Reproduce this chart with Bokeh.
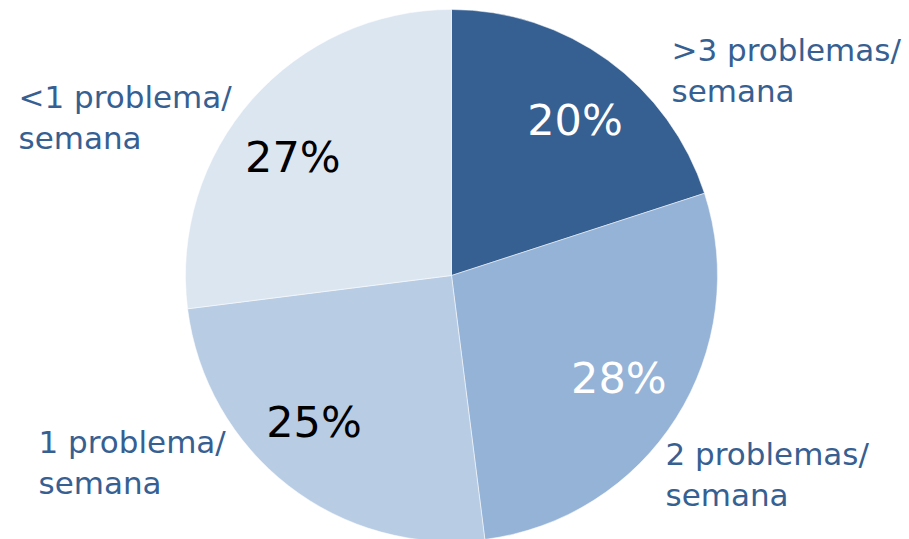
import math
from bokeh.plotting import figure
from bokeh.models import ColumnDataSource, Range1d
from bokeh.core.properties import value
from bokeh.embed import file_html
from bokeh.resources import INLINE

# ---- data ----
categories = [">3 problemas/\nsemana", "2 problemas/\nsemana", "1 problema/\nsemana", "<1 problema/\nsemana"]
shares = [20, 28, 25, 27]
pct_labels = ["20%", "28%", "25%", "27%"]

# ---- styles / layout ----
colors = ["#366092", "#95b3d7", "#b8cce4", "#dce6f1"]
pct_colors = ["#ffffff", "#ffffff", "#000000", "#000000"]
label_offsets = [(220, 205), (214, -199), (-413, -187), (-433, 158)]  # px from centre, left-aligned anchors
pct_nudges = [(7, -5), (0, 4), (-16, 10), (-10, -13)]  # px tweaks of inside labels

W, H = 909, 539
cx, cy, R = 451, 264, 266
r_lab = 0.745 * R

total = sum(shares)
starts, ends, mids = [], [], []
cum = 0
for s in shares:
    a0 = math.pi / 2 - 2 * math.pi * cum / total
    cum += s
    a1 = math.pi / 2 - 2 * math.pi * cum / total
    starts.append(a0)
    ends.append(a1)
    mids.append((a0 + a1) / 2)

src = ColumnDataSource(dict(
    x=[cx] * len(shares), y=[cy] * len(shares),
    start=starts, end=ends, color=colors,
    px=[cx + r_lab * math.cos(m) + n[0] for m, n in zip(mids, pct_nudges)],
    py=[cy + r_lab * math.sin(m) + n[1] for m, n in zip(mids, pct_nudges)],
    pct=pct_labels, pcol=pct_colors,
    lx=[cx + o[0] for o in label_offsets],
    ly=[cy + o[1] for o in label_offsets],
    cat=categories,
))

p = figure(width=W, height=H, output_backend="svg", toolbar_location=None,
           x_range=Range1d(0, W), y_range=Range1d(0, H), min_border=0)
p.axis.visible = False
p.grid.visible = False
p.outline_line_color = None
p.background_fill_color = "white"

p.wedge(x="x", y="y", radius=R, start_angle="start", end_angle="end", direction="clock",
        fill_color="color", line_color="white", line_width=0.5, source=src)

p.text(x="px", y="py", text="pct", text_color="pcol", text_align="center", text_baseline="middle",
       text_font=value("DejaVu Sans"), text_font_size="43px", source=src)

p.text(x="lx", y="ly", text="cat", text_color="#376092", text_align="left", text_baseline="middle",
       text_font=value("DejaVu Sans"), text_font_size="31px", text_line_height=1.15, source=src)

open("out.html", "w").write(file_html(p, INLINE))
